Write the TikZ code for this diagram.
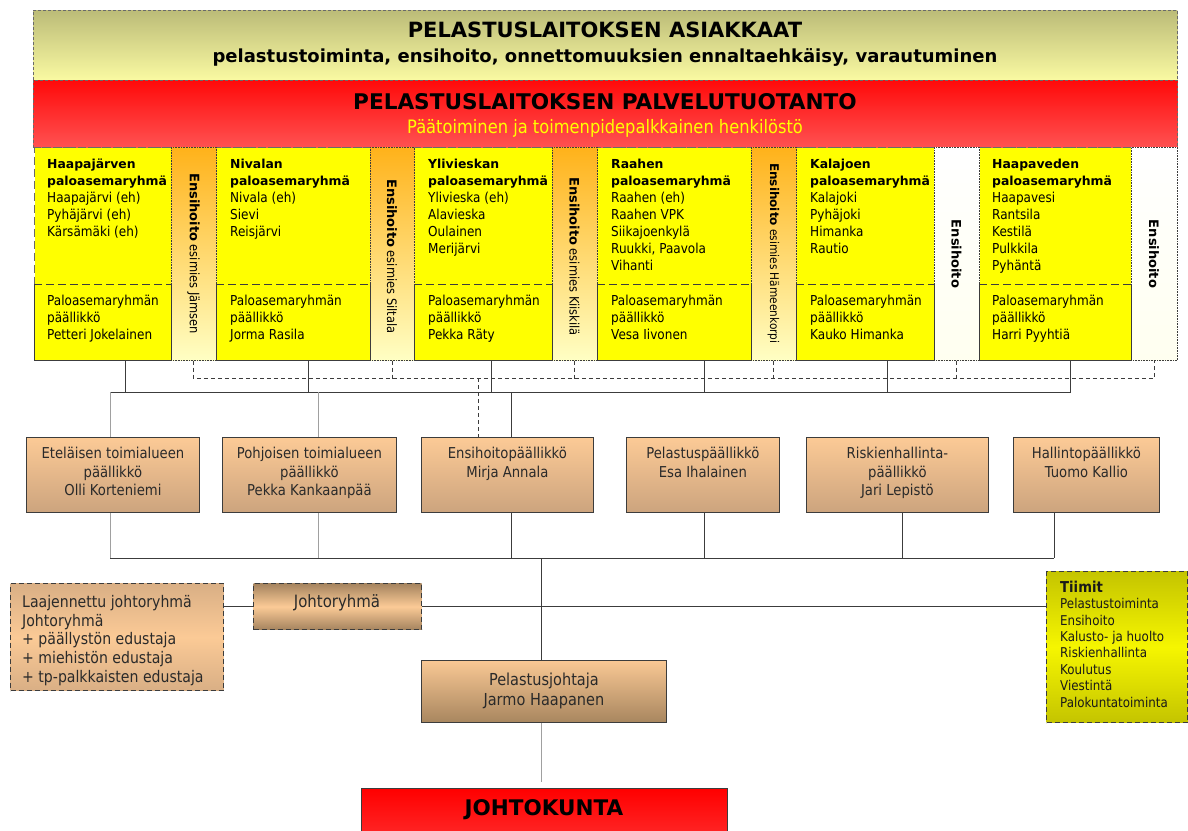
\documentclass[tikz,border=0pt]{standalone}
\usepackage{fontspec}
\setmainfont{DejaVu Sans}[FakeStretch=0.88]
\newfontfamily\widefont{DejaVu Sans}
\usetikzlibrary{calc}

\definecolor{grpyellow}{HTML}{FFFF00}
\definecolor{lndark}{HTML}{3C3C3C}
\definecolor{lnlight}{HTML}{A0A0A0}
\definecolor{edge}{HTML}{6A6A6A}
\definecolor{custtop}{HTML}{BCBC78}
\definecolor{custbot}{HTML}{FAFAA2}
\definecolor{redtop}{HTML}{FF0A0A}
\definecolor{redbot}{HTML}{FF5252}
\definecolor{striptop}{HTML}{FFB21A}
\definecolor{stripbot}{HTML}{FFFFC4}
\definecolor{stripwhite}{HTML}{FFFFF0}
\definecolor{peachtop}{HTML}{FCCA96}
\definecolor{peachbot}{HTML}{CCA47E}
\definecolor{chieftop}{HTML}{F9C894}
\definecolor{chiefbot}{HTML}{A8865F}
\definecolor{tanmid}{HTML}{FBCA96}
\definecolor{tandark}{HTML}{A5845F}
\definecolor{tanlight}{HTML}{D9AF85}
\definecolor{olive}{HTML}{C4C400}
\definecolor{brightyel}{HTML}{F6F600}
\definecolor{subyellow}{HTML}{FFFF00}
\definecolor{boxtext}{HTML}{2A2A2A}
\definecolor{boardtop}{HTML}{FF0000}
\definecolor{boardbot}{HTML}{FF3030}

% bold group headings and strip titles
\newcommand\gt[1]{{\widefont\bfseries\fontsize{12.4}{17}\selectfont #1}}
\newcommand\eh{{\widefont\bfseries Ensihoito}}
% first-line struts, fixing the top of multi-line blocks
\newcommand\tpa{\rule{0pt}{12pt}}
\newcommand\tpb{\rule{0pt}{14pt}}

\begin{document}
\begin{tikzpicture}[x=1pt, y=-1pt,
  panel/.style={anchor=north west, inner sep=0, draw=edge, dash pattern=on 3pt off 2pt, line width=0.8pt},
  grtop/.style={anchor=north west, inner sep=0, fill=grpyellow, draw=edge, dash pattern=on 8pt off 4pt, line width=1pt},
  grbot/.style={anchor=north west, inner sep=0, fill=grpyellow},
  strip/.style={anchor=north west, inner sep=0, draw=lndark, densely dotted, line width=0.6pt, top color=striptop, bottom color=stripbot},
  gtext/.style={anchor=north west, align=left, inner sep=0, font=\fontsize{13.7}{17}\selectfont, text=black},
  stext/.style={rotate=-90, inner sep=0, font=\fontsize{13}{16}\selectfont, text=black},
  mbox/.style={anchor=north west, inner sep=0, draw=lndark, line width=0.8pt, top color=peachtop, bottom color=peachbot},
  mtext/.style={anchor=north, align=center, inner sep=0, font=\fontsize{15}{18.5}\selectfont, text=boxtext},
  dbox/.style={anchor=north west, inner sep=0, draw=lndark, dash pattern=on 5pt off 3pt, line width=1.2pt},
  cdark/.style={draw=lndark, line width=0.9pt},
  clight/.style={draw=lnlight, line width=0.9pt},
  cdash/.style={draw=lndark, line width=0.8pt, dash pattern=on 4pt off 3pt},
]
\useasboundingbox (0,0) rectangle (1188,830);

% ---- customers band
\node[panel, top color=custtop, bottom color=custbot, minimum width=1144, minimum height=70] (cust) at (33,10) {};
\node[font=\widefont\bfseries\fontsize{21}{24}\selectfont] (custTitle) at (605,30) {PELASTUSLAITOKSEN ASIAKKAAT};
\node[font=\widefont\bfseries\fontsize{18}{22}\selectfont] (custSub) at (605,57) {pelastustoiminta, ensihoito, onnettomuuksien ennaltaehkäisy, varautuminen};

% ---- service production band
\node[panel, top color=redtop, bottom color=redbot, minimum width=1144, minimum height=67] (prod) at (33,80) {};
\node[font=\widefont\bfseries\fontsize{21.6}{24}\selectfont] (prodTitle) at (605,102) {PELASTUSLAITOKSEN PALVELUTUOTANTO};
\node[font=\fontsize{18.5}{22}\selectfont, text=subyellow] (prodSub) at (605,128) {Päätoiminen ja toimenpidepalkkainen henkilöstö};

% ---- station groups
\foreach \i/\x/\w in {1/34/137, 2/216/154, 3/414/138, 4/597/154, 5/796/138, 6/979/152} {
  \node[grtop, minimum width=\w, minimum height=137] (gt\i) at (\x,147) {};
  \node[grbot, minimum width=\w, minimum height=76] (gb\i) at (\x,284) {};
}

\node[gtext] (g1head) at (47,156) {\tpa\gt{Haapajärven}\\\gt{paloasemaryhmä}\\Haapajärvi (eh)\\Pyhäjärvi (eh)\\Kärsämäki (eh)};
\node[gtext] (g1chief) at (47,293) {\tpa Paloasemaryhmän\\päällikkö\\Petteri Jokelainen};
\node[gtext] (g2head) at (230,156) {\tpa\gt{Nivalan}\\\gt{paloasemaryhmä}\\Nivala (eh)\\Sievi\\Reisjärvi};
\node[gtext] (g2chief) at (230,293) {\tpa Paloasemaryhmän\\päällikkö\\Jorma Rasila};
\node[gtext] (g3head) at (428,156) {\tpa\gt{Ylivieskan}\\\gt{paloasemaryhmä}\\Ylivieska (eh)\\Alavieska\\Oulainen\\Merijärvi};
\node[gtext] (g3chief) at (428,293) {\tpa Paloasemaryhmän\\päällikkö\\Pekka Räty};
\node[gtext] (g4head) at (611,156) {\tpa\gt{Raahen}\\\gt{paloasemaryhmä}\\Raahen (eh)\\Raahen VPK\\Siikajoenkylä\\Ruukki, Paavola\\Vihanti};
\node[gtext] (g4chief) at (611,293) {\tpa Paloasemaryhmän\\päällikkö\\Vesa Iivonen};
\node[gtext] (g5head) at (810,156) {\tpa\gt{Kalajoen}\\\gt{paloasemaryhmä}\\Kalajoki\\Pyhäjoki\\Himanka\\Rautio};
\node[gtext] (g5chief) at (810,293) {\tpa Paloasemaryhmän\\päällikkö\\Kauko Himanka};
\node[gtext] (g6head) at (992,156) {\tpa\gt{Haapaveden}\\\gt{paloasemaryhmä}\\Haapavesi\\Rantsila\\Kestilä\\Pulkkila\\Pyhäntä};
\node[gtext] (g6chief) at (992,293) {\tpa Paloasemaryhmän\\päällikkö\\Harri Pyyhtiä};

% first-aid strips
\foreach \i/\sx/\sw in {1/171/45, 2/370/44, 3/552/45, 4/751/45}
  \node[strip, minimum width=\sw, minimum height=213] (s\i) at (\sx,147) {};
\node[strip, top color=white, bottom color=stripwhite, minimum width=45, minimum height=213] (s5) at (934,147) {};
\node[strip, top color=white, bottom color=stripwhite, minimum width=46, minimum height=213] (s6) at (1131,147) {};

% group borders: solid lower part, dashed divider
\foreach \i in {1,...,6} {
  \draw[lndark, line width=1pt] (gb\i.north west) -- (gb\i.south west) -- (gb\i.south east) -- (gb\i.north east);
  \draw[lndark, line width=1pt, dash pattern=on 8pt off 4pt] (gb\i.north west) -- (gb\i.north east);
}

\node[stext, anchor=west] (s1t) at (193.5,173) {\eh\ esimies Jämsen};
\node[stext, anchor=west] (s2t) at (392,179) {\eh\ esimies Siltala};
\node[stext, anchor=west] (s3t) at (574.5,177) {\eh\ esimies Kiiskilä};
\node[stext, anchor=west, font=\fontsize{12}{15}\selectfont] (s4t) at (773.5,163) {\eh\ esimies Hämeenkorpi};
\node[stext] (s5t) at (956.5,254) {\eh};
\node[stext] (s6t) at (1154,254) {\eh};

% ---- department heads
\node[mbox, minimum width=173, minimum height=75] (ete) at (26,437) {};
\node[mbox, minimum width=174, minimum height=75] (poh) at (222,437) {};
\node[mbox, minimum width=172, minimum height=75] (ens) at (421,437) {};
\node[mbox, minimum width=153, minimum height=75] (pel) at (626,437) {};
\node[mbox, minimum width=182, minimum height=75] (ris) at (806,437) {};
\node[mbox, minimum width=146, minimum height=75] (hal) at (1013,437) {};

\node[mtext] (eteT) at ($(ete.north)+(0,7.4)$) {\tpb Eteläisen toimialueen\\päällikkö\\Olli Korteniemi};
\node[mtext] (pohT) at ($(poh.north)+(0,7.4)$) {\tpb Pohjoisen toimialueen\\päällikkö\\Pekka Kankaanpää};
\node[mtext] (ensT) at ($(ens.north)+(0,7.4)$) {\tpb Ensihoitopäällikkö\\Mirja Annala};
\node[mtext] (pelT) at ($(pel.north)+(0,7.4)$) {\tpb Pelastuspäällikkö\\Esa Ihalainen};
\node[mtext] (risT) at ($(ris.north)+(0,7.4)$) {\tpb Riskienhallinta-\\päällikkö\\Jari Lepistö};
\node[mtext] (halT) at ($(hal.north)+(0,7.4)$) {\tpb Hallintopäällikkö\\Tuomo Kallio};

% ---- management
\node[dbox, top color=tanlight, bottom color=tanlight, middle color=tanmid, minimum width=213, minimum height=107] (laaj) at (10,583) {};
\node[anchor=north west, align=left, inner sep=0, font=\fontsize{16}{18.8}\selectfont, text=boxtext] (laajT) at (22,592) {\rule{0pt}{15pt}Laajennettu johtoryhmä\\Johtoryhmä\\+ päällystön edustaja\\+ miehistön edustaja\\+ tp-palkkaisten edustaja};

\node[dbox, top color=tandark, bottom color=tandark, middle color=tanmid, minimum width=168, minimum height=46] (joh) at (253,583) {};
\node[font=\fontsize{17}{20}\selectfont, text=boxtext] (johT) at (337,603) {Johtoryhmä};

\node[dbox, top color=olive, bottom color=olive, middle color=brightyel, minimum width=141, minimum height=151] (tii) at (1046,571) {};
\node[anchor=north west, align=left, inner sep=0, font=\fontsize{13.5}{16.4}\selectfont, text=black!90] (tiiT) at (1060,578) {\rule{0pt}{14pt}{\bfseries\fontsize{15}{16.4}\selectfont Tiimit}\\Pelastustoiminta\\Ensihoito\\Kalusto- ja huolto\\Riskienhallinta\\Koulutus\\Viestintä\\Palokuntatoiminta};

\node[mbox, top color=chieftop, bottom color=chiefbot, minimum width=245, minimum height=62] (pj) at (421,660) {};
\node[mtext, font=\fontsize{16.5}{20}\selectfont] (pjT) at ($(pj.north)+(0,10)$) {\rule{0pt}{15pt}Pelastusjohtaja\\Jarmo Haapanen};

\node[anchor=north west, inner sep=0, draw=lndark, line width=0.8pt, top color=boardtop, bottom color=boardbot, minimum width=366, minimum height=60] (jk) at (361,788) {};
\node[font=\widefont\bfseries\fontsize{21.5}{24}\selectfont] (jkT) at (544,810) {JOHTOKUNTA};

% ---- connectors: groups to the upper bus
\coordinate (busA) at (110,392);
\foreach \i/\x in {1/125, 2/308, 3/491, 4/704, 5/887, 6/1070}
  \coordinate (up\i) at (\x,360);
\draw[cdark] (busA) -- (up6 |- busA) -- (up6);
\foreach \i in {1,...,5}
  \draw[cdark] (up\i) -- (up\i |- busA);

% first-aid dashed line
\draw[cdash] (s1.south) -- ++(0,18) -| (s6.south);
\foreach \i in {2,...,5}
  \draw[cdash] (s\i.south) -- ++(0,18);
\coordinate (dj) at (478,378);
\draw[cdash] (dj) -- (dj |- ens.north);

% upper bus to heads
\coordinate (pv) at (318,392);
\coordinate (ev) at (511,392);
\draw[clight] (busA) -- (busA |- ete.north);
\draw[clight] (pv) -- (pv |- poh.north);
\draw[cdark] (ev) -- (ev |- ens.north);

% heads to the lower bus
\foreach \i/\x in {1/110, 2/318, 3/511, 4/704, 5/902, 6/1054}
  \coordinate (lb\i) at (\x,558);
\draw[clight] (ete.south -| lb1) -- (lb1);
\draw[clight] (poh.south -| lb2) -- (lb2);
\draw[cdark] (ens.south -| lb3) -- (lb3);
\draw[cdark] (pel.south -| lb4) -- (lb4);
\draw[cdark] (ris.south -| lb5) -- (lb5);
\draw[cdark] (hal.south -| lb6) -- (lb6);
\draw[cdark] (lb1) -- (lb6);

% lower bus to the rescue director
\coordinate (cv) at (541,558);
\draw[cdark] (cv) -- (cv |- pj.north);
\draw[clight, shorten >=6pt] (pj.south -| cv) -- (jk.north -| cv);

% management group links
\draw[cdark] (joh.west) -- (joh.west -| laaj.east);
\draw[cdark] (joh.east) -- (joh.east -| tii.west);
\end{tikzpicture}
\end{document}
